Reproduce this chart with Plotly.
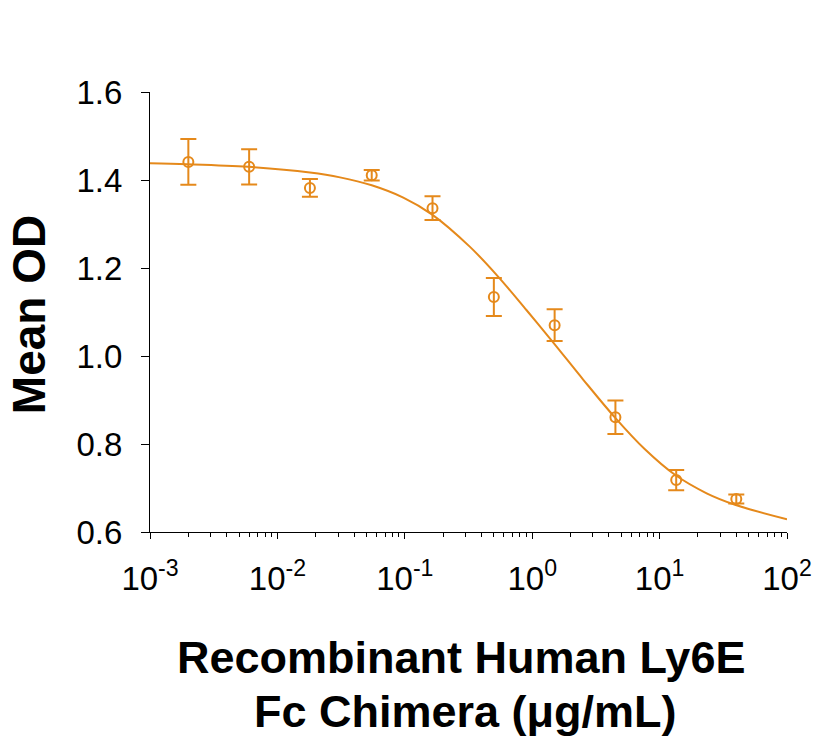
import plotly.graph_objects as go

# Data
conc = [0.002, 0.006, 0.018, 0.055, 0.165, 0.5, 1.5, 4.5, 13.5, 40]
mean_od = [1.441, 1.430, 1.382, 1.411, 1.336, 1.134, 1.070, 0.861, 0.718, 0.675]
err = [0.052, 0.040, 0.020, 0.012, 0.027, 0.043, 0.036, 0.038, 0.023, 0.010]

# Fitted curve
fit_x = [0.001, 0.00196, 0.00592, 0.0180, 0.0310, 0.0550, 0.0973, 0.163, 0.325, 0.542,
         0.904, 1.47, 2.52, 4.47, 7.67, 13.2, 23.4, 39.1, 100]
fit_y = [1.438, 1.436, 1.430, 1.417, 1.406, 1.388, 1.360, 1.322, 1.248, 1.180,
         1.104, 1.030, 0.946, 0.860, 0.788, 0.730, 0.688, 0.662, 0.629]

xtick_vals = [0.001, 0.01, 0.1, 1, 10, 100]
xtick_text = ["10<sup>-3</sup>", "10<sup>-2</sup>", "10<sup>-1</sup>",
              "10<sup>0</sup>", "10<sup>1</sup>", "10<sup>2</sup>"]
ytick_vals = [0.6, 0.8, 1.0, 1.2, 1.4, 1.6]
ytick_text = ["0.6", "0.8", "1.0", "1.2", "1.4", "1.6"]

color = "#E5891B"
font_family = "Liberation Sans, Arial, sans-serif"

fig = go.Figure()
fig.add_trace(go.Scatter(
    x=fit_x, y=fit_y, mode="lines", line=dict(color=color, width=2, shape="spline", smoothing=1.0),
    hoverinfo="skip", showlegend=False))
fig.add_trace(go.Scatter(
    x=conc, y=mean_od, mode="markers",
    marker=dict(symbol="circle-open", size=10, color=color, line=dict(width=2, color=color)),
    error_y=dict(type="data", array=err, visible=True, color=color, thickness=2, width=8),
    showlegend=False))

fig.update_layout(
    width=829, height=742,
    margin=dict(l=150, r=42, t=92, b=210, autoexpand=False),
    plot_bgcolor="white", paper_bgcolor="white",
    font=dict(family=font_family, color="black"),
    xaxis=dict(
        type="log", range=[-3, 2], tickvals=xtick_vals, ticktext=xtick_text,
        showgrid=False, zeroline=False, showline=True, linecolor="black", linewidth=1,
        ticks="outside", ticklen=6, tickcolor="black", tickwidth=1, automargin=False,
        tickfont=dict(size=33, family=font_family), ticklabelstandoff=11,
        minor=dict(ticks="outside", ticklen=4, tickcolor="black", tickwidth=1, dtick="D1", showgrid=False),
    ),
    yaxis=dict(
        range=[0.6, 1.6], tickvals=ytick_vals, ticktext=ytick_text,
        showgrid=False, zeroline=False, showline=True, linecolor="black", linewidth=1,
        ticks="outside", ticklen=8, tickcolor="black", tickwidth=1, automargin=False,
        tickfont=dict(size=33, family=font_family), ticklabelstandoff=12,
    ),
)

fig.add_annotation(text="<b>Mean OD</b>", xref="paper", yref="paper", x=-0.19, y=0.495,
                   textangle=-90, showarrow=False, font=dict(size=46, family=font_family),
                   xanchor="center", yanchor="middle")
fig.add_annotation(text="<b>Recombinant Human Ly6E</b>", xref="paper", yref="paper",
                   x=0.489, y=-0.285, showarrow=False, font=dict(size=45, family=font_family),
                   xanchor="center", yanchor="middle")
fig.add_annotation(text="<b>Fc Chimera (μg/mL)</b>", xref="paper", yref="paper",
                   x=0.496, y=-0.408, showarrow=False, font=dict(size=45, family=font_family),
                   xanchor="center", yanchor="middle")

fig.write_html("out.html", config={"displayModeBar": False},
               post_script="document.body.style.margin='0';document.body.style.overflow='hidden';")
